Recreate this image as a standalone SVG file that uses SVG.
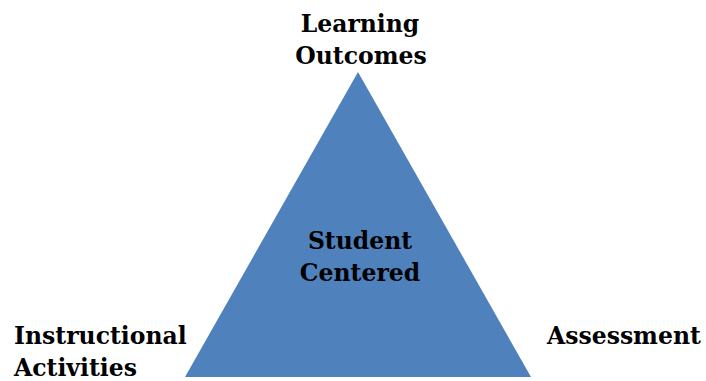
<svg xmlns="http://www.w3.org/2000/svg" width="706" height="381" viewBox="0 0 706 381">
  <style>
    .lbl { font-family: "DejaVu Serif", "Liberation Serif", serif; font-weight: bold; font-size: 23.5px; fill: #000; }
    .mid { text-anchor: middle; }
  </style>
  <rect width="706" height="381" fill="#ffffff"/>
  <g id="triangle">
    <polygon points="358,72 531,377 185,377" fill="#4F81BD"/>
  </g>
  <g id="center">
    <text class="lbl mid" x="360" y="249">Student</text>
    <text class="lbl mid" x="360" y="281">Centered</text>
  </g>
  <g id="top">
    <text class="lbl mid" x="360" y="32">Learning</text>
    <text class="lbl mid" x="361" y="64">Outcomes</text>
  </g>
  <g id="left">
    <text class="lbl" x="14" y="344">Instructional</text>
    <text class="lbl" x="14" y="376">Activities</text>
  </g>
  <g id="right">
    <text class="lbl" x="547" y="344">Assessment</text>
  </g>
</svg>
